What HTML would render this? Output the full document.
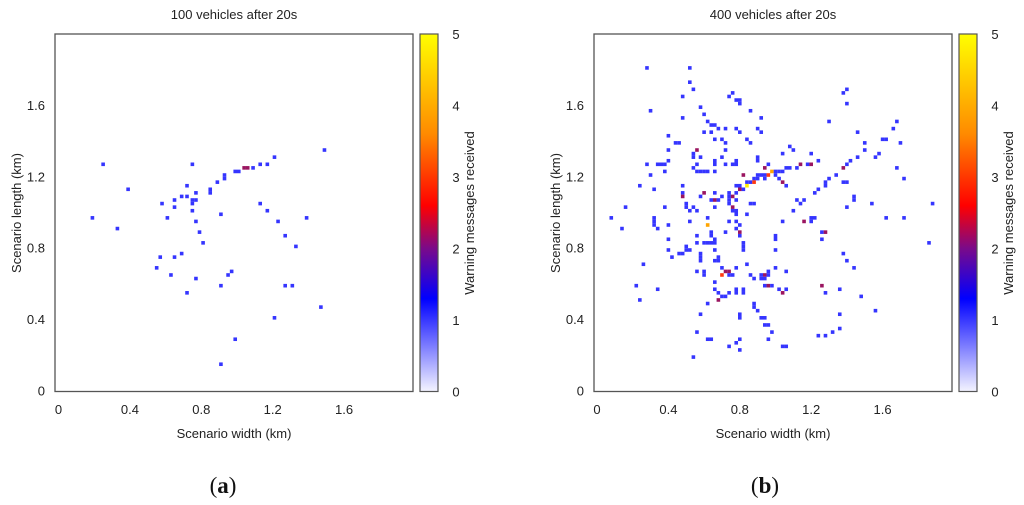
<!DOCTYPE html>
<html><head><meta charset="utf-8"><style>
body{margin:0;background:#fff;width:1024px;height:505px;overflow:hidden}
svg{display:block;font-family:"Liberation Sans",Arial,sans-serif}
</style></head><body>
<svg id="fig" width="1024" height="505" viewBox="0 0 1024 505">
<defs>
<linearGradient id="cb" x1="0" y1="1" x2="0" y2="0">
<stop offset="0" stop-color="#f4f4ff"/><stop offset="0.26" stop-color="#0000ff"/>
<stop offset="0.4" stop-color="#7a0a8a"/><stop offset="0.52" stop-color="#ff0000"/>
<stop offset="0.72" stop-color="#ff8a00"/><stop offset="1" stop-color="#ffff00"/>
</linearGradient>
</defs>
</svg>
<script>
const xTicks=[0,0.4,0.8,1.2,1.6];
const yTicks=[0,0.4,0.8,1.2,1.6];
const cbTicks=[0,1,2,3,4,5];
const leftPoints=[[1.49,1.35,1],[1.21,1.31,1],[0.75,1.27,1],[1.13,1.27,1],[1.17,1.27,1],[1.04,1.25,2],[1.06,1.25,2],[1.09,1.25,1],[0.99,1.23,1],[1.01,1.23,1],[0.93,1.21,1],[0.93,1.19,1],[0.89,1.17,1],[0.72,1.15,1],[0.77,1.11,1],[0.85,1.13,1],[0.85,1.11,1],[0.69,1.09,1],[0.72,1.09,1],[0.65,1.07,1],[0.75,1.07,1],[0.77,1.07,1],[0.75,1.05,1],[0.58,1.05,1],[0.65,1.03,1],[1.13,1.05,1],[0.75,1.01,1],[1.17,1.01,1],[0.61,0.97,1],[0.91,0.99,1],[0.77,0.95,1],[1.23,0.95,1],[1.39,0.97,1],[0.79,0.89,1],[1.27,0.87,1],[0.81,0.83,1],[1.33,0.81,1],[0.69,0.77,1],[0.57,0.75,1],[0.65,0.75,1],[0.55,0.69,1],[0.63,0.65,1],[0.97,0.67,1],[0.95,0.65,1],[0.77,0.63,1],[0.91,0.59,1],[1.27,0.59,1],[1.31,0.59,1],[0.72,0.55,1],[1.47,0.47,1],[1.21,0.41,1],[0.99,0.29,1],[0.91,0.15,1],[0.19,0.97,1],[0.25,1.27,1],[0.33,0.91,1],[0.39,1.13,1]];
const rightPoints=[[0.28,1.81,1],[0.52,1.81,1],[0.52,1.73,1],[0.54,1.69,1],[0.48,1.65,1],[0.76,1.67,1],[0.74,1.65,1],[0.78,1.63,1],[0.80,1.63,1],[0.80,1.61,1],[0.30,1.57,1],[0.58,1.59,1],[0.60,1.55,1],[0.86,1.57,1],[0.48,1.53,1],[0.92,1.53,1],[0.62,1.51,1],[0.64,1.49,1],[0.66,1.49,1],[0.68,1.47,1],[0.72,1.47,1],[0.78,1.47,1],[0.90,1.47,1],[0.60,1.45,1],[0.64,1.45,1],[0.80,1.45,1],[0.92,1.45,1],[0.40,1.43,1],[0.66,1.41,1],[0.70,1.41,1],[0.84,1.41,1],[0.44,1.39,1],[0.46,1.39,1],[0.72,1.39,1],[0.86,1.39,1],[0.40,1.35,1],[0.56,1.35,2],[0.72,1.35,1],[0.54,1.33,1],[0.54,1.31,1],[0.70,1.31,1],[0.58,1.31,1],[0.40,1.29,1],[0.66,1.29,1],[0.66,1.27,1],[0.78,1.29,1],[0.76,1.27,1],[0.78,1.27,1],[0.72,1.27,1],[0.90,1.31,1],[0.90,1.29,1],[0.28,1.27,1],[0.34,1.27,1],[0.36,1.27,1],[0.38,1.27,1],[0.56,1.27,1],[0.54,1.25,1],[0.56,1.23,1],[0.58,1.23,1],[0.60,1.23,1],[0.62,1.23,1],[0.66,1.23,1],[0.38,1.23,1],[0.30,1.21,1],[0.94,1.25,2],[0.96,1.27,1],[0.82,1.21,2],[0.90,1.21,1],[0.92,1.21,1],[0.94,1.21,1],[0.96,1.21,3],[0.98,1.23,4],[1.00,1.23,1],[0.88,1.19,1],[0.90,1.19,1],[0.94,1.19,1],[0.84,1.17,1],[0.86,1.17,1],[0.88,1.17,3],[0.24,1.15,1],[0.48,1.15,1],[0.78,1.15,1],[0.80,1.15,1],[0.84,1.15,5],[0.32,1.13,1],[0.80,1.13,2],[0.82,1.13,1],[0.48,1.11,1],[0.48,1.09,2],[0.60,1.11,2],[0.66,1.11,1],[0.74,1.11,1],[0.78,1.11,1],[0.58,1.09,1],[0.70,1.09,1],[0.74,1.09,1],[0.76,1.09,2],[0.64,1.07,1],[0.66,1.07,2],[0.68,1.07,1],[0.74,1.07,1],[0.78,1.07,1],[0.50,1.05,1],[0.50,1.03,1],[0.52,1.01,1],[0.54,1.03,1],[0.56,1.01,1],[0.66,1.03,1],[0.74,1.05,1],[0.76,1.03,2],[0.76,1.01,1],[0.78,1.01,1],[0.78,0.99,1],[0.86,1.05,1],[0.88,1.05,1],[0.16,1.03,1],[0.38,1.03,1],[0.84,0.99,1],[0.08,0.97,1],[0.32,0.97,1],[0.62,0.97,1],
[1.40,1.69,1],[1.38,1.67,1],[1.40,1.61,1],[1.30,1.51,1],[1.68,1.51,1],[1.66,1.47,1],[1.46,1.45,1],[1.60,1.41,1],[1.62,1.41,1],[1.50,1.39,1],[1.70,1.39,1],[1.08,1.37,1],[1.10,1.35,1],[1.50,1.35,1],[1.04,1.33,1],[1.20,1.33,1],[1.46,1.31,1],[1.56,1.31,1],[1.58,1.33,1],[1.24,1.29,1],[1.42,1.29,1],[1.14,1.27,2],[1.18,1.27,1],[1.20,1.27,2],[1.40,1.27,1],[1.06,1.25,1],[1.08,1.25,1],[1.12,1.25,1],[1.38,1.25,2],[1.68,1.25,1],[1.02,1.23,1],[1.04,1.23,1],[1.00,1.21,1],[1.02,1.19,1],[1.04,1.17,2],[1.06,1.15,1],[1.30,1.19,1],[1.34,1.21,1],[1.38,1.17,1],[1.40,1.17,1],[1.28,1.17,1],[1.28,1.15,1],[1.24,1.13,1],[1.22,1.11,1],[1.72,1.19,1],[1.44,1.09,1],[1.44,1.07,1],[1.12,1.07,1],[1.16,1.07,1],[1.14,1.05,1],[1.10,1.01,1],[1.40,1.03,1],[1.54,1.05,1],[1.88,1.05,1],[1.20,0.97,1],[1.22,0.97,1],[1.62,0.97,1],[1.72,0.97,1],
[0.14,0.91,1],[0.32,0.95,1],[0.32,0.93,1],[0.34,0.91,1],[0.40,0.93,1],[0.52,0.95,1],[0.62,0.93,4],[0.74,0.95,1],[0.78,0.95,1],[0.78,0.91,1],[0.80,0.93,1],[0.80,0.89,2],[0.80,0.87,1],[0.72,0.89,1],[0.64,0.89,1],[0.64,0.87,1],[0.56,0.87,1],[0.40,0.85,1],[0.60,0.83,1],[0.62,0.83,1],[0.64,0.83,1],[0.66,0.83,1],[0.66,0.85,1],[0.56,0.83,1],[0.82,0.83,1],[0.82,0.81,1],[0.82,0.79,1],[1.00,0.87,1],[1.00,0.85,1],[1.00,0.79,1],[0.40,0.79,1],[0.50,0.81,1],[0.50,0.79,1],[0.52,0.79,1],[0.46,0.77,1],[0.48,0.77,1],[0.42,0.75,1],[0.66,0.79,1],[0.58,0.77,1],[0.58,0.75,1],[0.58,0.73,1],[0.66,0.73,1],[0.68,0.73,1],[0.68,0.75,1],[0.26,0.71,1],[0.84,0.71,1],[1.00,0.69,1],[0.70,0.69,1],[0.78,0.69,1],[0.56,0.67,1],[0.60,0.67,1],[0.60,0.65,1],[0.72,0.67,2],[0.74,0.67,2],[0.70,0.65,3],[0.74,0.65,1],[0.76,0.65,1],[0.86,0.65,1],[0.88,0.63,1],[0.92,0.65,1],[0.94,0.65,2],[0.92,0.63,1],[0.94,0.63,1],[0.96,0.67,1],[0.96,0.65,1],[0.94,0.59,1],[0.96,0.59,2],[0.98,0.59,1],[0.22,0.59,1],[0.34,0.57,1],[0.24,0.51,1],[0.66,0.61,1],[0.66,0.57,1],[0.68,0.55,1],[0.70,0.53,1],[0.72,0.53,1],[0.74,0.55,1],[0.78,0.57,1],[0.78,0.55,1],[0.82,0.57,1],[0.82,0.55,1],[0.68,0.51,2],[0.62,0.49,1],[0.88,0.49,1],[0.88,0.47,1],[0.90,0.45,1],[0.58,0.43,1],[0.80,0.43,1],[0.80,0.41,1],[0.92,0.41,1],[0.94,0.41,1],[0.94,0.37,1],[0.96,0.37,1],[0.98,0.33,1],[0.56,0.33,1],[0.62,0.29,1],[0.64,0.29,1],[0.80,0.29,1],[0.78,0.27,1],[0.74,0.25,1],[0.96,0.29,1],[0.80,0.23,1],[0.54,0.19,1],
[1.04,0.95,1],[1.16,0.95,2],[1.20,0.95,1],[1.26,0.89,1],[1.28,0.89,2],[1.26,0.85,1],[1.86,0.83,1],[1.38,0.77,1],[1.40,0.73,1],[1.44,0.69,1],[1.06,0.67,1],[1.02,0.57,1],[1.06,0.57,1],[1.04,0.55,2],[1.26,0.59,2],[1.28,0.55,1],[1.36,0.57,1],[1.48,0.53,1],[1.56,0.45,1],[1.36,0.43,1],[1.36,0.35,1],[1.32,0.33,1],[1.28,0.31,1],[1.24,0.31,1],[1.04,0.25,1],[1.06,0.25,1]];

const NS="http://www.w3.org/2000/svg";
const svg=document.getElementById('fig');
const colorFor=v=>['#ffffff','#3535ff','#9a1560','#ff3a10','#ffa500','#ffee00'][Math.max(0,Math.min(5,Math.round(v)))];
function mk(tag,attrs,parent){const e=document.createElementNS(NS,tag);for(const k in attrs)e.setAttribute(k,attrs[k]);(parent||svg).appendChild(e);return e;}
function txt(s,attrs,parent){const e=mk('text',attrs,parent);e.textContent=s;return e;}

function panel(id,fx,x0,title,points){
  const S=178.5,y0=391,top=34,bot=391.5,right=fx+358;
  const sx=v=>x0+v*S, sy=v=>y0-v*S;
  const g=mk('g',{});
  
  
  const t=txt(title,{x:(fx+right)/2,y:19,'text-anchor':'middle','font-size':13,fill:'#222'},g);
  
  
  const pg=mk('g',{},g);
  
  
  points.forEach(p=>{
    const r=mk('rect',{x:sx(p[0])-1.8,y:sy(p[1])-1.8,width:3.6,height:3.6,fill:colorFor(p[2])},pg);
    
    
  });
  const f=mk('rect',{x:fx,y:top,width:right-fx,height:bot-top,fill:'none',stroke:'#555','stroke-width':1.3},g);
  
  
  xTicks.forEach(v=>{const e=txt(String(v),{x:sx(v),y:414,'text-anchor':'middle','font-size':13,fill:'#222'},g);
    
    });
  yTicks.forEach(v=>{const e=txt(String(v),{x:fx-10,y:sy(v)+4.5,'text-anchor':'end','font-size':13,fill:'#222'},g);
    
    });
  const xl=txt('Scenario width (km)',{x:(fx+right)/2,y:438,'text-anchor':'middle','font-size':13,fill:'#222'},g);
  
  
  const yl=txt('Scenario length (km)',{x:0,y:0,'text-anchor':'middle','font-size':13,fill:'#222',transform:`translate(${fx-34},213) rotate(-90)`},g);
  
  
  // colorbar
  const cx=right+7;
  const cb=mk('rect',{x:cx,y:top,width:18,height:bot-top,fill:'url(#cb)',stroke:'#555','stroke-width':1.2},g);
  
  
  cbTicks.forEach(v=>{const e=txt(String(v),{x:cx+36,y:bot-v*(bot-top)/5+5,'text-anchor':'middle','font-size':13,fill:'#222'},g);
    
    });
  const cl=txt('Warning messages received',{x:0,y:0,'text-anchor':'middle','font-size':13,fill:'#222',transform:`translate(${cx+54},213) rotate(-90)`},g);
  
  
}
panel('left',55,58.5,'100 vehicles after 20s',leftPoints);
panel('right',594,597,'400 vehicles after 20s',rightPoints);
[['(a)',223,'caption-a'],['(b)',765,'caption-b']].forEach(c=>{
  const e=mk('text',{x:c[1],y:493,'text-anchor':'middle','font-size':23,'font-family':'"Liberation Serif",serif',fill:'#111'});
  e.innerHTML='(<tspan font-weight="bold">'+c[0].slice(1,2)+'</tspan>)';
  
  
});
</script>
</body></html>
